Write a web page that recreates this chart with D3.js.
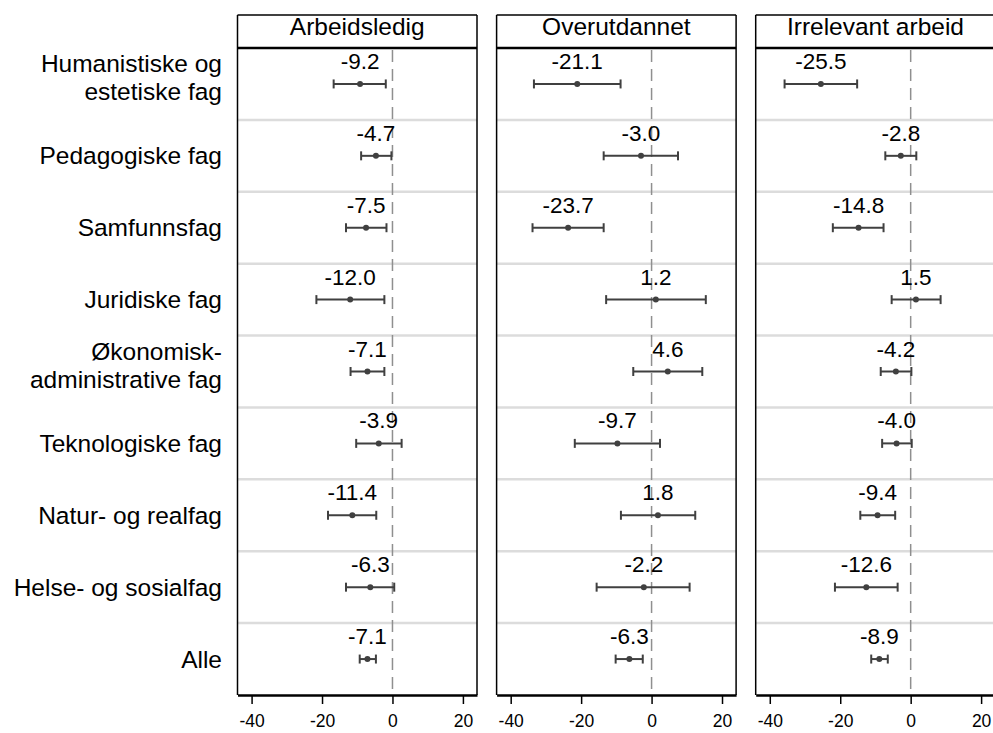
<!DOCTYPE html>
<html>
<head>
<meta charset="utf-8">
<script src="https://cdn.jsdelivr.net/npm/d3@7"></script>
<style>
  html, body { margin: 0; padding: 0; background: #ffffff; }
  svg { display: block; font-family: "Liberation Sans", Arial, Helvetica, sans-serif; }
</style>
</head>
<body>
<svg id="chart" width="993" height="733"></svg>
<script>
// ---- Data ----
const categories = [
  "Humanistiske og\nestetiske fag",
  "Pedagogiske fag",
  "Samfunnsfag",
  "Juridiske fag",
  "Økonomisk-\nadministrative fag",
  "Teknologiske fag",
  "Natur- og realfag",
  "Helse- og sosialfag",
  "Alle"
];
const panels = ["Arbeidsledig", "Overutdannet", "Irrelevant arbeid"];

const arbeidsledig    = [-9.2, -4.7, -7.5, -12.0, -7.1, -3.9, -11.4, -6.3, -7.1];
const arbeidsledigLo  = [-16.7, -8.9, -13.2, -21.6, -11.9, -10.3, -18.3, -13.2, -9.3];
const arbeidsledigHi  = [-1.9, -0.3, -1.7, -2.3, -2.3, 2.6, -4.6, 0.5, -4.7];

const overutdannet    = [-21.1, -3.0, -23.7, 1.2, 4.6, -9.7, 1.8, -2.2, -6.3];
const overutdannetLo  = [-33.4, -13.6, -33.8, -12.9, -5.2, -21.8, -8.7, -15.6, -10.2];
const overutdannetHi  = [-8.8, 7.5, -13.6, 15.4, 14.4, 2.4, 12.4, 10.8, -2.5];

const irrelevant      = [-25.5, -2.8, -14.8, 1.5, -4.2, -4.0, -9.4, -12.6, -8.9];
const irrelevantLo    = [-35.8, -7.2, -22.1, -5.4, -8.5, -8.1, -14.3, -21.5, -11.2];
const irrelevantHi    = [-15.2, 1.6, -7.7, 8.5, 0.2, 0.3, -4.4, -3.7, -6.5];

const xTicks = [-40, -20, 0, 20];

const series = [
  { est: arbeidsledig, lo: arbeidsledigLo, hi: arbeidsledigHi },
  { est: overutdannet, lo: overutdannetLo, hi: overutdannetHi },
  { est: irrelevant, lo: irrelevantLo, hi: irrelevantHi }
];

// ---- Layout ----
const svg = d3.select("#chart");
const plotLeft = 237.5, panelW = 239.5, panelStep = 259.1;
const headTop = 15, plotTop = 48, plotBottom = 695;
const ink = "#404040";

const y = d3.scaleBand().domain(d3.range(categories.length)).range([plotTop, plotBottom]).padding(0);

// Row labels
const rowLab = svg.append("g");
categories.forEach((c, i) => {
  const cy = y(i) + y.bandwidth() / 2;
  const lines = c.split("\n");
  lines.forEach((ln, k) => {
    const base = lines.length === 1 ? cy + 8.5 : cy - 11.5 + k * 27.5;
    rowLab.append("text")
      .attr("x", 222).attr("y", base)
      .attr("text-anchor", "end")
      .attr("font-size", 24.5)
      .attr("fill", "#000")
      .text(ln);
  });
});

panels.forEach((p, pi) => {
  const x0 = plotLeft + pi * panelStep;
  const x = d3.scaleLinear().domain([-44, 24]).range([x0, x0 + panelW]);
  const g = svg.append("g");
  const s = series[pi];

  // gridlines between rows
  g.selectAll("line.grid").data(d3.range(1, categories.length)).join("line")
    .attr("x1", x0).attr("x2", x0 + panelW)
    .attr("y1", d => y(d)).attr("y2", d => y(d))
    .attr("stroke", "#dcdcdc").attr("stroke-width", 2.5);

  // zero dashed line
  g.append("line")
    .attr("x1", x(0)).attr("x2", x(0))
    .attr("y1", plotTop + 2).attr("y2", plotBottom)
    .attr("stroke", "#8f8f8f").attr("stroke-width", 1.5)
    .attr("stroke-dasharray", "12,7");

  // panel side borders
  g.append("line").attr("x1", x0).attr("x2", x0).attr("y1", headTop).attr("y2", plotBottom)
    .attr("stroke", "#000").attr("stroke-width", 1.5);
  g.append("line").attr("x1", x0 + panelW).attr("x2", x0 + panelW).attr("y1", headTop).attr("y2", plotBottom)
    .attr("stroke", "#000").attr("stroke-width", 1.5);

  // header strip
  g.append("line").attr("x1", x0).attr("x2", x0 + panelW).attr("y1", headTop).attr("y2", headTop)
    .attr("stroke", "#000").attr("stroke-width", 1.5);
  g.append("line").attr("x1", x0).attr("x2", x0 + panelW).attr("y1", plotTop).attr("y2", plotTop)
    .attr("stroke", "#000").attr("stroke-width", 2.5);
  g.append("text")
    .attr("x", x0 + panelW / 2).attr("y", headTop + 19.5)
    .attr("text-anchor", "middle")
    .attr("font-size", 24.5)
    .attr("fill", "#000")
    .text(p);

  // error bars
  const rows = d3.range(categories.length);
  const cy = i => y(i) + y.bandwidth() / 2;
  g.selectAll("line.ci").data(rows).join("line")
    .attr("x1", i => x(s.lo[i])).attr("x2", i => x(s.hi[i]))
    .attr("y1", cy).attr("y2", cy)
    .attr("stroke", ink).attr("stroke-width", 2);
  g.selectAll("line.capl").data(rows).join("line")
    .attr("x1", i => x(s.lo[i])).attr("x2", i => x(s.lo[i]))
    .attr("y1", i => cy(i) - 4.5).attr("y2", i => cy(i) + 4.5)
    .attr("stroke", ink).attr("stroke-width", 2);
  g.selectAll("line.caph").data(rows).join("line")
    .attr("x1", i => x(s.hi[i])).attr("x2", i => x(s.hi[i]))
    .attr("y1", i => cy(i) - 4.5).attr("y2", i => cy(i) + 4.5)
    .attr("stroke", ink).attr("stroke-width", 2);
  g.selectAll("circle.pt").data(rows).join("circle")
    .attr("cx", i => x(s.est[i])).attr("cy", cy).attr("r", 3)
    .attr("fill", ink);
  g.selectAll("text.val").data(rows).join("text")
    .attr("x", i => x(s.est[i])).attr("y", i => cy(i) - 15)
    .attr("text-anchor", "middle")
    .attr("font-size", 22.5)
    .attr("fill", "#000")
    .text(i => s.est[i].toFixed(1));

  // x axis
  const ax = svg.append("g").attr("transform", `translate(0,${plotBottom})`)
    .call(d3.axisBottom(x).tickValues(xTicks).tickSize(9).tickSizeOuter(0).tickPadding(11).tickFormat(d3.format("d")));
  ax.select(".domain").attr("stroke", "#000").attr("stroke-width", 2.5);
  ax.selectAll(".tick line").attr("stroke", "#000").attr("stroke-width", 1.5);
  ax.selectAll(".tick text")
    .attr("font-size", 17.5)
    .attr("font-family", "Liberation Sans, Arial, sans-serif")
    .attr("fill", "#000")
    .text(d => d < 0 ? "-" + Math.abs(d) : d);
});
</script>
</body>
</html>
